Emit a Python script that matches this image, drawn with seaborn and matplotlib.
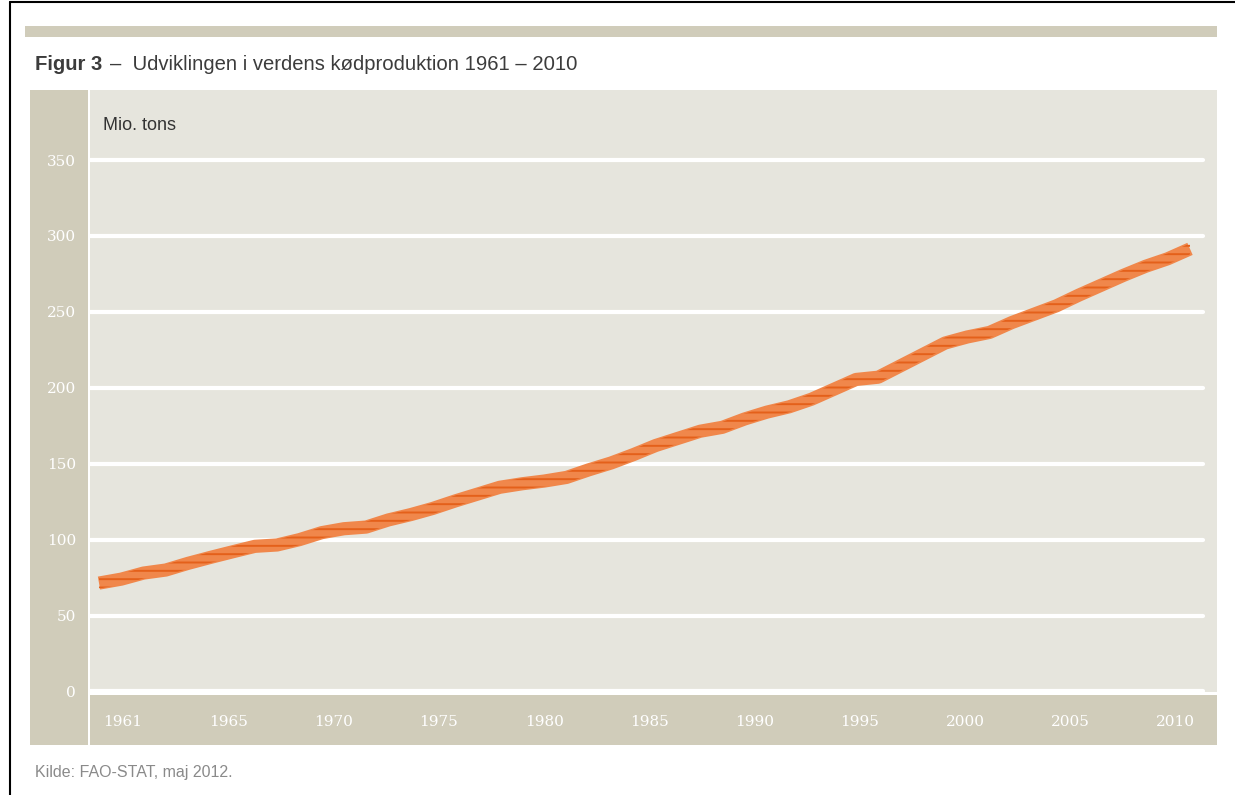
import matplotlib
matplotlib.use('Agg')
import matplotlib.pyplot as plt
import matplotlib.transforms as mtransforms
from matplotlib.lines import Line2D
import seaborn as sns
import pandas as pd
import numpy as np

# data: world meat production, million tons
years = list(range(1961, 2011))
production = [71.4, 74.0, 78.0, 80.0, 84.4, 88.3, 92.0, 95.6, 96.5, 100.0,
              104.6, 107.2, 108.3, 113.0, 116.5, 120.6, 125.5, 130.0, 134.5, 136.8,
              138.6, 141.0, 146.0, 150.5, 156.0, 162.0, 166.7, 171.4, 174.0, 179.5,
              184.0, 187.5, 192.5, 199.0, 205.5, 207.0, 214.5, 222.0, 229.5, 233.5,
              236.5, 243.0, 248.5, 254.0, 261.0, 267.5, 274.0, 280.0, 285.0, 291.5]
ytick_values = [0, 50, 100, 150, 200, 250, 300, 350]
xtick_labels = ['1961', '1965', '1970', '1975', '1980', '1985',
                '1990', '1995', '2000', '2005', '2010']

title_bold = 'Figur 3'
title_rest = '–  Udviklingen i verdens kødproduktion 1961 – 2010'
unit_label = 'Mio. tons'
source = 'Kilde: FAO-STAT, maj 2012.'

df = pd.DataFrame({'year': years, 'mt': production})

W, H = 1235, 795
TAN = '#D0CCBA'
PANEL = '#E6E5DD'
ORANGE = '#F0874B'
DARK_ORANGE = '#E4601A'
SANS = ['Liberation Sans', 'DejaVu Sans']
SERIF = 'DejaVu Serif'

sns.set_style('white')
plt.rcParams['font.family'] = SANS
plt.rcParams['hatch.linewidth'] = 1.4


def rect(x0, y0, x1, y1):
    # pixel box -> figure fraction rect
    return [x0 / W, 1 - y1 / H, (x1 - x0) / W, (y1 - y0) / H]


fig = plt.figure(figsize=(W / 100, H / 100), dpi=100)

# outer frame (left + top)
fig.add_artist(Line2D([10 / W, 10 / W], [0, 1 - 2 / H], color='black', lw=1.5))
fig.add_artist(Line2D([10 / W, 1], [1 - 2 / H, 1 - 2 / H], color='black', lw=1.5))

# top tan bar
bar = fig.add_axes(rect(25, 26, 1217, 37))
bar.set_facecolor(TAN)
bar.set_xticks([]); bar.set_yticks([])
for s in bar.spines.values():
    s.set_visible(False)

# title
t = fig.text(35 / W, 1 - 65 / H, title_bold, fontsize=14.6, fontweight='bold',
             color='#3c3c3c', va='center', ha='left', family=SANS)
fig.canvas.draw()
bb = t.get_window_extent()
fig.text((bb.x1 + 8) / W, 1 - 65 / H, title_rest, fontsize=14.6,
         color='#3c3c3c', va='center', ha='left', family=SANS)

# left strip for y labels
ystrip = fig.add_axes(rect(30, 90, 88, 745))
ystrip.set_facecolor(TAN)
ystrip.set_xticks([]); ystrip.set_yticks([])
for s in ystrip.spines.values():
    s.set_visible(False)

# bottom strip for x labels
xstrip = fig.add_axes(rect(90, 695, 1217, 745))
xstrip.set_facecolor(TAN)
xstrip.set_xticks([]); xstrip.set_yticks([])
for s in xstrip.spines.values():
    s.set_visible(False)
xstrip.set_xlim(-0.313, len(xtick_labels) - 1 + 0.39)
trans = mtransforms.blended_transform_factory(xstrip.transData, xstrip.transAxes)
for i, lbl in enumerate(xtick_labels):
    xstrip.text(i, 0.47, lbl, transform=trans, ha='center', va='center',
                color='white', fontsize=11, family=SERIF)

# main plot
ax = fig.add_axes(rect(90, 90, 1217, 692))
ax.set_facecolor(PANEL)
for s in ax.spines.values():
    s.set_visible(False)

px_per_unit = (691 - 160) / 350.0
ax.set_ylim(-1.0 / px_per_unit * 0.5, 350 + 70 / px_per_unit)
px_per_year = (1190 - 99) / 49.0
ax.set_xlim(1961 - 9 / px_per_year, 2010 + 27 / px_per_year)

for v in ytick_values:
    ax.axhline(v, xmin=0, xmax=(1203 - 90) / (1217 - 90), color='white', lw=3, zorder=1)

sns.lineplot(data=df, x='year', y='mt', ax=ax, color=ORANGE, lw=9.5,
             solid_capstyle='butt', zorder=3)
ax.fill_between(df['year'], df['mt'] - 3.6, df['mt'] + 3.6, facecolor='none',
                edgecolor=DARK_ORANGE, hatch='--', linewidth=0, zorder=4)

ax.set_xticks([])
ax.set_yticks(ytick_values)
ax.set_yticklabels([str(v) for v in ytick_values], color='white', fontsize=11,
                   family=SERIF)
ax.tick_params(axis='y', length=0, pad=10)
ax.set_xlabel('')
ax.set_ylabel('')
ax.grid(False)

ax.text(13 / (1217 - 90), 1 - 36 / (692 - 90), unit_label, transform=ax.transAxes,
        fontsize=13, color='#333333', va='center', ha='left', family=SANS)

fig.text(35 / W, 1 - 772 / H, source, fontsize=11.5, color='#8a8a8a',
         va='center', ha='left', family=SANS)

fig.savefig('out.png', dpi=100)
